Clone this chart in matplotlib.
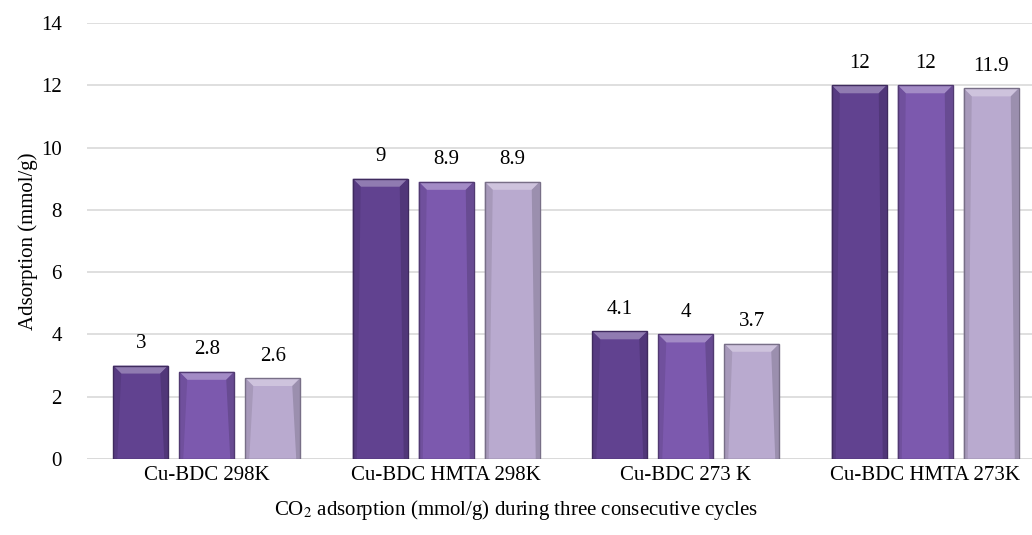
import matplotlib
matplotlib.use("Agg")
import matplotlib.pyplot as plt
import matplotlib.colors as mcolors
from matplotlib.patches import Polygon
import numpy as np

plt.rcParams['font.family'] = ['Liberation Serif', 'DejaVu Serif']
plt.rcParams['mathtext.fontset'] = 'stix'

samples = ['Cu-BDC 298K', 'Cu-BDC HMTA 298K', 'Cu-BDC 273 K', 'Cu-BDC HMTA 273K']
cycle1 = [3, 9, 4.1, 12]
cycle2 = [2.8, 8.9, 4, 12]
cycle3 = [2.6, 8.9, 3.7, 11.9]
series = [cycle1, cycle2, cycle3]
colors = ['#614290', '#7c59ae', '#b9aacf']

fig = plt.figure(figsize=(10.32, 5.35), dpi=100)
ax = fig.add_axes([87 / 1032, 76 / 535, 958 / 1032, 436 / 535])

x = np.arange(len(samples))
pitch = 66 / 239.5
width = 55 / 239.5
fs = 15

ax.set_xlim(-0.5, len(samples) - 0.5)
ax.set_ylim(0, 14)
ax.set_yticks(range(0, 15, 2))
ax.yaxis.grid(True, color='#d9d9d9', linewidth=1.2)
ax.set_axisbelow(True)
for s in ax.spines.values():
    s.set_visible(False)
ax.axhline(0, color='#d9d9d9', linewidth=1.2, zorder=1)
ax.tick_params(axis='both', length=0, labelsize=fs, colors='black')
ax.tick_params(axis='x', pad=5)
ax.tick_params(axis='y', pad=18)

def shade(c, f):
    r, g, b = mcolors.to_rgb(c)
    if f >= 0:
        return (r + (1 - r) * f, g + (1 - g) * f, b + (1 - b) * f)
    return (r * (1 + f), g * (1 + f), b * (1 + f))

# bevel size in pixels, converted to data units
px_x = (ax.get_xlim()[1] - ax.get_xlim()[0]) / 958
px_y = 14 / 436
bx, by = 8 * px_x, 8 * px_y

for i, (vals, col) in enumerate(zip(series, colors)):
    pos = x + (i - 1) * pitch
    bars = ax.bar(pos, vals, width, color=col, edgecolor='none', zorder=2)
    for p, v in zip(bars.patches, vals):
        x0, x1 = p.get_x(), p.get_x() + p.get_width()
        y1 = p.get_height()
        # bevelled look: light top, shaded sides and bottom
        top = [(x0, y1), (x1, y1), (x1 - bx, y1 - by), (x0 + bx, y1 - by)]
        left = [(x0, 0), (x0, y1), (x0 + bx, y1 - by), (x0 + bx * 0.5, 0)]
        right = [(x1, 0), (x1, y1), (x1 - bx, y1 - by), (x1 - bx * 0.5, 0)]
        ax.add_patch(Polygon(top, closed=True, facecolor=shade(col, 0.3),
                             edgecolor='none', zorder=3))
        ax.add_patch(Polygon(left, closed=True, facecolor=shade(col, -0.1),
                             edgecolor='none', zorder=3))
        ax.add_patch(Polygon(right, closed=True, facecolor=shade(col, -0.16),
                             edgecolor='none', zorder=3))
        ax.add_patch(Polygon([(x0, 0), (x0, y1), (x1, y1), (x1, 0)], closed=True,
                             facecolor='none', edgecolor=shade(col, -0.35),
                             linewidth=1.0, zorder=4))
        ax.annotate(f'{v:g}', (p.get_x() + p.get_width() / 2, y1),
                    xytext=(0, 9), textcoords='offset points',
                    ha='center', va='bottom', fontsize=fs)

ax.set_xticks(x)
ax.set_xticklabels(samples)
ax.set_ylabel('Adsorption (mmol/g)', fontsize=fs, labelpad=2)
fig.text(516 / 1032, 1 - 510 / 535,
         'CO$_2$ adsorption (mmol/g) during three consecutive cycles',
         fontsize=fs, ha='center', va='center')

fig.savefig('out.png', dpi=100)
